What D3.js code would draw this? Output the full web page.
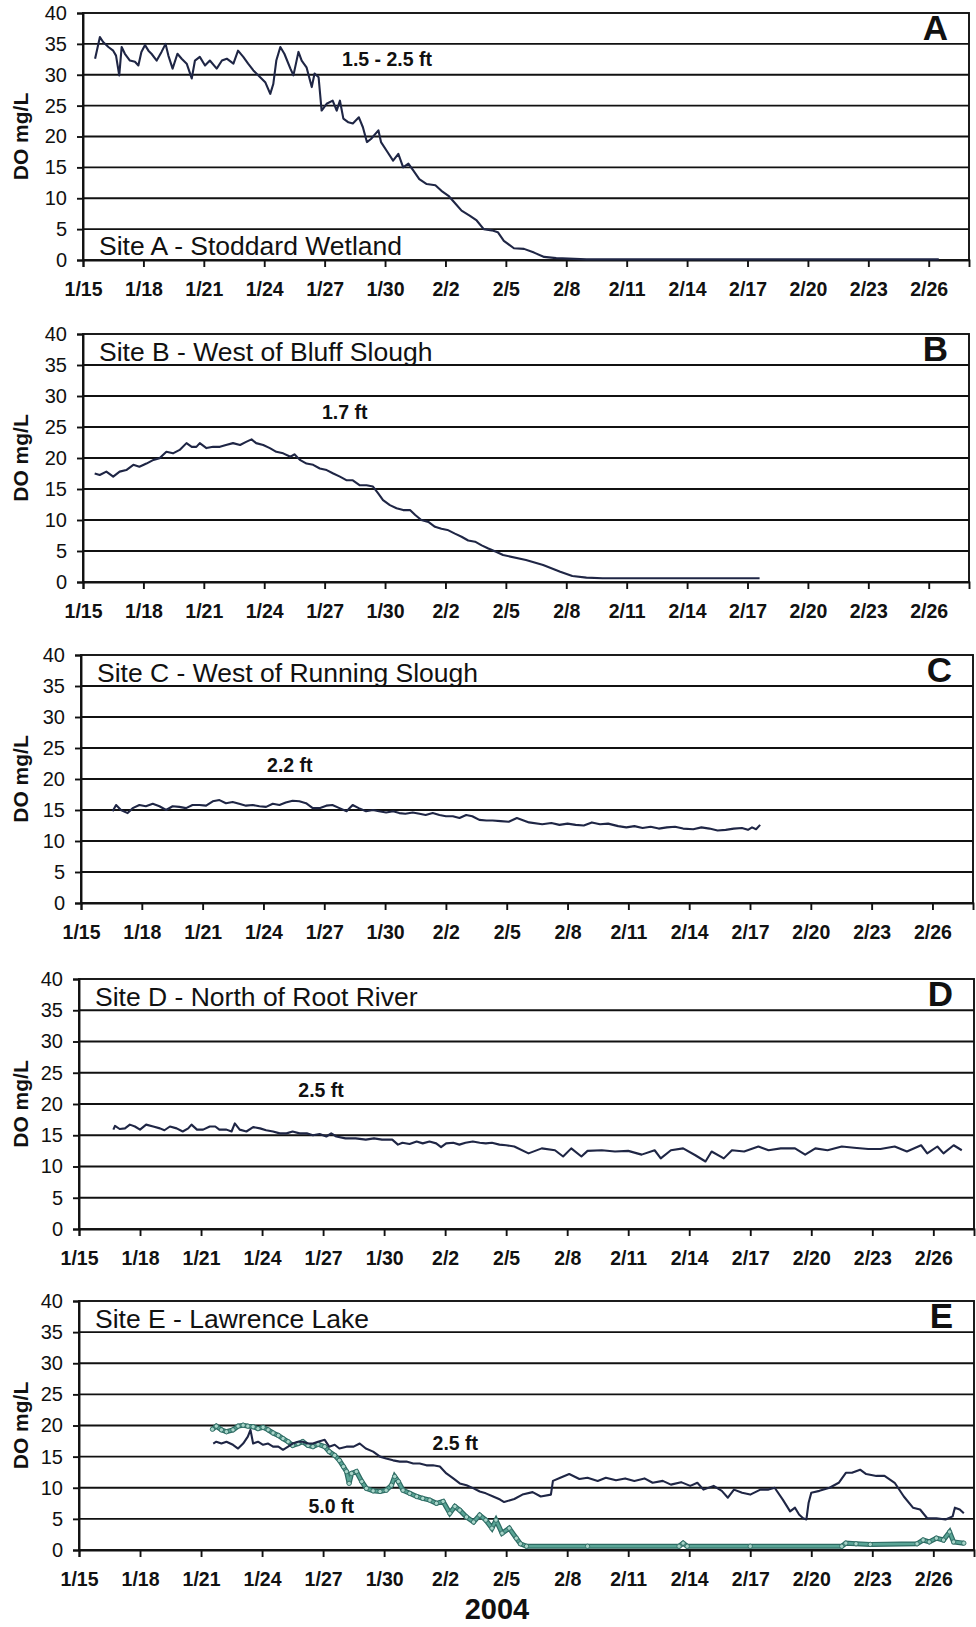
<!DOCTYPE html>
<html>
<head>
<meta charset="utf-8">
<script src="https://cdn.jsdelivr.net/npm/d3@7"></script>
<style>
  body { margin: 0; background: #fff; }
  svg { display: block; font-family: "Liberation Sans", Arial, sans-serif; }
</style>
</head>
<body>
<div id="chart"></div>
<script>
// Canvas
const width = 976;
const height = 1627;

// Time axis: days counted from 1/15/2004
const startDate = new Date(2004, 0, 15);
const endDate = new Date(2004, 1, 28);
const tickDays = [0, 3, 6, 9, 12, 15, 18, 21, 24, 27, 30, 33, 36, 39, 42];
const xTickLabels = ["1/15", "1/18", "1/21", "1/24", "1/27", "1/30", "2/2", "2/5",
  "2/8", "2/11", "2/14", "2/17", "2/20", "2/23", "2/26"];
const yTicks = [0, 5, 10, 15, 20, 25, 30, 35, 40];

// DO readings, [day since 1/15, mg/L]
const siteA = [[0.6,32.6],[0.84,36.1],[1.0,35.3],[1.26,34.5],[1.5,33.9],[1.64,33.1],[1.8,29.9],[1.92,34.5],
  [2.08,33.4],[2.33,32.3],[2.58,32.1],[2.75,31.5],[2.9,33.7],[3.08,34.8],[3.25,33.9],[3.4,33.4],[3.66,32.3],
  [3.9,33.7],[4.1,35.0],[4.24,33.1],[4.45,31.0],[4.69,33.4],[4.9,32.6],[5.15,31.8],[5.4,29.4],[5.56,32.3],
  [5.8,32.9],[6.06,31.5],[6.3,32.3],[6.64,31.0],[6.9,32.3],[7.14,32.6],[7.47,31.8],[7.7,33.9],[7.96,32.9],
  [8.2,31.8],[8.46,30.7],[8.8,29.6],[9.05,28.8],[9.3,26.9],[9.45,28.5],[9.6,32.3],[9.8,34.5],[10.0,33.4],
  [10.3,31.0],[10.45,29.9],[10.7,33.7],[10.86,32.3],[11.1,31.2],[11.36,28.0],[11.5,30.2],[11.7,29.6],
  [11.85,24.2],[12.1,25.3],[12.4,25.8],[12.6,24.2],[12.76,25.8],[12.93,22.9],[13.18,22.3],[13.4,22.1],
  [13.7,23.1],[13.9,21.5],[14.1,19.1],[14.3,19.6],[14.67,21.0],[14.8,19.1],[15.08,17.7],[15.4,16.1],
  [15.66,17.2],[15.9,15.0],[16.16,15.6],[16.4,14.5],[16.7,13.1],[17.07,12.3],[17.5,12.1],[17.8,11.2],
  [18.15,10.4],[18.5,9.1],[18.8,8.0],[19.2,7.2],[19.55,6.4],[19.9,5.0],[20.3,4.8],[20.6,4.5],[20.9,3.1],
  [21.4,1.9],[21.9,1.8],[22.4,1.2],[22.9,0.5],[23.5,0.3],[25,0.1],[30,0.1],[36,0.1],[42.5,0.1]];

const siteB = [[0.58,17.5],[0.83,17.25],[1.16,17.8],[1.5,17.0],[1.82,17.8],[2.15,18.05],[2.5,18.9],[2.8,18.6],
  [3.15,19.1],[3.5,19.7],[3.8,19.95],[4.14,21.0],[4.47,20.75],[4.8,21.3],[5.14,22.4],[5.4,21.8],[5.63,21.8],
  [5.8,22.4],[6.13,21.6],[6.46,21.8],[6.8,21.8],[7.1,22.1],[7.45,22.4],[7.8,22.1],[8.1,22.6],[8.37,23.0],
  [8.6,22.4],[8.95,22.1],[9.28,21.6],[9.6,21.0],[9.94,20.75],[10.3,20.2],[10.5,20.6],[10.77,19.7],[11.1,19.1],
  [11.43,18.9],[11.76,18.3],[12.1,18.05],[12.43,17.5],[12.76,17.0],[13.1,16.4],[13.4,16.4],[13.75,15.6],
  [14.08,15.6],[14.4,15.4],[14.66,14.3],[14.9,13.2],[15.24,12.4],[15.57,11.9],[15.9,11.6],[16.24,11.6],
  [16.5,10.8],[16.8,10.0],[17.15,9.7],[17.48,8.9],[17.8,8.6],[18.1,8.4],[18.47,7.8],[18.8,7.3],[19.13,6.7],
  [19.47,6.5],[19.8,5.9],[20.13,5.4],[20.54,4.85],[20.86,4.35],[22.0,3.55],[22.85,2.74],[23.7,1.66],
  [24.3,0.97],[25.0,0.7],[25.8,0.6],[29,0.6],[33.6,0.6]];

const siteC = [[1.56,14.8],[1.73,15.8],[1.97,15.0],[2.3,14.5],[2.55,15.3],[2.88,15.8],[3.2,15.6],[3.54,16.0],
  [3.87,15.6],[4.2,15.0],[4.52,15.6],[4.85,15.5],[5.18,15.3],[5.5,15.8],[5.84,15.8],[6.17,15.7],[6.5,16.4],
  [6.83,16.6],[7.15,16.1],[7.48,16.3],[7.8,16.0],[8.14,15.7],[8.47,15.8],[8.8,15.6],[9.13,15.5],[9.46,16.0],
  [9.79,15.8],[10.1,16.2],[10.44,16.5],[10.77,16.4],[11.1,16.1],[11.43,15.3],[11.76,15.3],[12.1,15.7],
  [12.4,15.8],[12.75,15.3],[13.1,14.8],[13.4,15.8],[13.7,15.3],[14.06,14.8],[14.4,15.0],[14.7,14.8],
  [15.05,14.6],[15.4,14.8],[15.7,14.5],[16.0,14.4],[16.36,14.6],[16.7,14.4],[17.0,14.2],[17.35,14.5],
  [17.68,14.2],[18.0,14.0],[18.34,14.0],[18.67,13.7],[19.0,14.2],[19.3,14.0],[19.65,13.4],[20.0,13.3],
  [20.3,13.3],[20.7,13.2],[21.1,13.1],[21.5,13.7],[22.1,13.0],[22.75,12.7],[23.2,12.9],[23.6,12.6],
  [24.0,12.8],[24.4,12.6],[24.8,12.5],[25.2,13.0],[25.6,12.7],[26.0,12.8],[26.5,12.4],[26.9,12.2],
  [27.3,12.4],[27.7,12.1],[28.1,12.3],[28.5,12.0],[28.9,12.2],[29.3,12.3],[29.7,12.0],[30.2,11.9],
  [30.6,12.2],[31.0,12.0],[31.4,11.7],[31.8,11.8],[32.2,12.0],[32.6,12.1],[32.9,11.8],[33.1,12.2],
  [33.3,11.9],[33.5,12.6]];

const siteD = [[1.69,15.9],[1.77,16.5],[2.0,16.0],[2.26,16.1],[2.5,16.7],[2.75,16.4],[3.0,15.9],[3.3,16.7],
  [3.65,16.4],[3.98,16.1],[4.2,15.8],[4.47,16.4],[4.8,16.1],[5.1,15.6],[5.37,16.1],[5.53,16.7],[5.8,15.9],
  [6.1,15.9],[6.43,16.4],[6.7,16.4],[6.9,15.9],[7.25,15.9],[7.5,15.6],[7.66,16.9],[7.9,15.9],[8.23,15.6],
  [8.56,16.3],[8.9,16.1],[9.2,15.8],[9.54,15.6],[9.87,15.3],[10.2,15.3],[10.5,15.6],[10.85,15.3],[11.2,15.3],
  [11.5,15.0],[11.83,15.2],[12.16,14.8],[12.4,15.3],[12.65,14.8],[13.1,14.5],[13.6,14.5],[14.1,14.3],
  [14.5,14.5],[14.9,14.3],[15.4,14.3],[15.68,13.5],[15.9,13.8],[16.25,13.6],[16.6,14.0],[16.9,13.7],
  [17.23,14.0],[17.56,13.7],[17.8,13.1],[18.05,13.7],[18.4,13.8],[18.7,13.5],[19.0,13.8],[19.36,14.0],
  [19.7,13.8],[20.0,13.7],[20.3,13.8],[20.67,13.5],[21.0,13.4],[21.4,13.2],[22.1,12.1],[22.75,12.9],
  [23.4,12.6],[23.8,11.6],[24.2,12.9],[24.7,11.6],[25.0,12.5],[25.7,12.6],[26.35,12.4],[27.0,12.5],
  [27.66,11.9],[28.3,12.6],[28.6,11.3],[29.1,12.6],[29.7,12.9],[30.3,11.8],[30.8,10.8],[31.1,12.4],
  [31.7,11.3],[32.1,12.6],[32.7,12.4],[33.4,13.2],[33.9,12.6],[34.5,12.9],[35.2,12.9],[35.7,11.9],
  [36.2,12.9],[36.8,12.6],[37.5,13.2],[38.1,13.0],[38.8,12.8],[39.4,12.8],[40.1,13.2],[40.7,12.4],
  [41.4,13.4],[41.7,12.1],[42.2,13.2],[42.5,12.1],[43.0,13.4],[43.4,12.6]];

const siteE25 = [[6.6,17.1],[6.75,17.4],[7.0,17.1],[7.25,17.4],[7.57,16.9],[7.82,16.3],[8.07,17.1],[8.3,18.2],
  [8.43,19.3],[8.56,17.1],[8.8,17.4],[9.05,16.9],[9.3,17.1],[9.54,16.6],[9.8,16.6],[10.03,16.1],[10.28,16.6],
  [10.5,17.1],[10.77,17.4],[11.0,17.4],[11.26,17.1],[11.5,17.1],[11.75,17.4],[12.08,17.7],[12.3,16.6],
  [12.57,16.9],[12.8,16.3],[13.15,16.6],[13.5,16.6],[13.8,17.1],[14.1,16.3],[14.46,15.8],[14.8,15.0],
  [15.1,14.7],[15.44,14.4],[15.77,14.2],[16.1,14.2],[16.43,13.9],[16.75,13.9],[17.08,13.6],[17.4,13.6],
  [17.74,13.4],[18.06,12.3],[18.4,11.5],[18.72,10.7],[19.05,10.4],[19.4,9.9],[19.7,9.4],[20.0,9.1],
  [20.36,8.6],[20.7,8.1],[20.9,7.7],[21.4,8.2],[21.8,8.9],[22.3,9.3],[22.7,8.6],[23.2,8.9],[23.3,11.1],
  [23.66,11.6],[24.1,12.2],[24.6,11.4],[25.0,11.6],[25.5,11.1],[25.9,11.6],[26.4,11.2],[26.85,11.5],
  [27.3,11.1],[27.8,11.5],[28.2,10.8],[28.7,11.1],[29.1,10.5],[29.6,10.9],[30.05,10.3],[30.4,10.8],
  [30.7,9.7],[31.2,10.3],[31.6,9.5],[31.9,8.4],[32.2,9.7],[32.6,9.2],[33.0,8.9],[33.5,9.7],[33.9,9.7],
  [34.2,10.0],[34.6,8.1],[34.96,6.2],[35.2,6.8],[35.4,5.7],[35.6,5.1],[35.76,4.9],[35.87,7.6],[36.0,9.2],
  [36.4,9.5],[36.9,10.0],[37.35,10.8],[37.7,12.4],[38.0,12.4],[38.4,12.9],[38.7,12.2],[39.2,11.9],
  [39.6,11.9],[40.1,10.8],[40.55,8.6],[41.0,6.8],[41.35,6.5],[41.7,5.1],[42.15,5.1],[42.6,4.9],
  [42.95,5.4],[43.06,6.8],[43.3,6.5],[43.5,5.9]];

const siteE50 = [[6.56,19.4],[6.75,19.9],[7.0,19.3],[7.25,19.0],[7.57,19.3],[7.82,19.9],[8.07,20.05],[8.3,19.9],
  [8.56,19.8],[8.8,19.5],[9.05,19.7],[9.3,19.3],[9.54,18.8],[9.8,18.4],[10.03,17.9],[10.28,17.4],[10.5,16.8],
  [10.77,17.1],[11.0,17.4],[11.26,16.8],[11.5,16.6],[11.75,17.0],[12.08,16.6],[12.3,15.8],[12.57,15.2],
  [12.8,14.4],[13.0,13.4],[13.15,12.6],[13.28,10.7],[13.4,12.3],[13.64,12.6],[13.9,11.0],[14.13,9.9],
  [14.46,9.5],[14.8,9.4],[15.1,9.6],[15.36,10.4],[15.52,11.8],[15.7,11.0],[15.93,9.6],[16.26,9.1],
  [16.6,8.6],[16.9,8.3],[17.25,8.0],[17.57,7.5],[17.9,7.8],[18.23,5.9],[18.48,7.0],[18.72,6.4],[19.05,5.3],
  [19.4,4.5],[19.7,5.6],[20.0,4.8],[20.3,3.5],[20.5,4.8],[20.8,2.7],[21.15,3.5],[21.5,1.9],[21.7,1.0],
  [22.0,0.6],[25.0,0.6],[29.5,0.6],[29.7,1.1],[29.9,0.6],[33.0,0.6],[37.5,0.6],[37.7,1.1],[38.2,1.0],
  [38.9,0.9],[41.2,1.0],[41.5,1.6],[41.8,1.3],[42.15,1.9],[42.5,1.6],[42.8,2.9],[43.0,1.3],[43.5,1.1]];

// Panel frames and their text
const panels = [
  { top: 13,   bottom: 260,  left: 83, right: 969, letter: "A", site: "Site A - Stoddard Wetland", siteAtBottom: true,
    series: [siteA], notes: [{ text: "1.5 - 2.5 ft", d: 15.1, v: 31.4 }] },
  { top: 334,  bottom: 582,  left: 83, right: 969, letter: "B", site: "Site B - West of Bluff Slough",
    series: [siteB], notes: [{ text: "1.7 ft", d: 13.0, v: 26.3 }] },
  { top: 655,  bottom: 903,  left: 81, right: 973, letter: "C", site: "Site C - West of Running Slough",
    series: [siteC], notes: [{ text: "2.2 ft", d: 10.3, v: 21.1 }] },
  { top: 979,  bottom: 1229, left: 79, right: 974, letter: "D", site: "Site D - North of Root River",
    series: [siteD], notes: [{ text: "2.5 ft", d: 11.9, v: 21.1 }] },
  { top: 1301, bottom: 1550, left: 79, right: 974, letter: "E", site: "Site E - Lawrence Lake",
    series: [siteE25], teal: siteE50,
    notes: [{ text: "2.5 ft", d: 18.5, v: 16.1 }, { text: "5.0 ft", d: 12.4, v: 5.9 }] }
];

const dayToDate = d => new Date(startDate.getTime() + d * 864e5);

const svg = d3.select("#chart")
  .append("svg")
  .attr("width", width)
  .attr("height", height);

svg.append("rect").attr("width", width).attr("height", height).attr("fill", "#fff");

panels.forEach(p => {
  const g = svg.append("g");

  const x = d3.scaleTime().domain([startDate, endDate]).range([p.left, p.right]);
  const y = d3.scaleLinear().domain([0, 40]).range([p.bottom, p.top]);

  // horizontal gridlines
  g.selectAll(".grid")
    .data(yTicks.filter(v => v > 0 && v < 40))
    .enter().append("line")
    .attr("x1", p.left).attr("x2", p.right)
    .attr("y1", d => y(d)).attr("y2", d => y(d))
    .attr("stroke", "#111")
    .attr("stroke-width", 1.9);

  // plot frame
  g.append("rect")
    .attr("x", p.left).attr("y", p.top)
    .attr("width", p.right - p.left).attr("height", p.bottom - p.top)
    .attr("fill", "none")
    .attr("stroke", "#111")
    .attr("stroke-width", 1.9);

  // y axis
  const yAxis = g.append("g")
    .attr("transform", `translate(${p.left},0)`)
    .call(d3.axisLeft(y).tickValues(yTicks).tickSize(6).tickPadding(10));
  yAxis.selectAll("line, path").attr("stroke", "#111").attr("stroke-width", 1.9);
  yAxis.selectAll("text")
    .attr("fill", "#111")
    .style("font-size", "20px")
    .style("font-family", "'Liberation Sans', Arial, sans-serif");

  // x axis
  const xAxis = g.append("g")
    .attr("transform", `translate(0,${p.bottom})`)
    .call(d3.axisBottom(x)
      .tickValues(tickDays.map(dayToDate))
      .tickFormat((d, i) => xTickLabels[i])
      .tickSize(7).tickPadding(15));
  xAxis.selectAll("line, path").attr("stroke", "#111").attr("stroke-width", 1.9);
  xAxis.selectAll("text")
    .attr("fill", "#111")
    .style("font-size", "19.5px")
    .style("font-weight", "bold")
    .style("font-family", "'Liberation Sans', Arial, sans-serif");

  // y axis title
  g.append("text")
    .attr("transform", `translate(28,${(p.top + p.bottom) / 2}) rotate(-90)`)
    .attr("text-anchor", "middle")
    .attr("font-size", 21)
    .attr("font-weight", "bold")
    .attr("fill", "#111")
    .text("DO mg/L");

  const line = d3.line()
    .x(d => x(dayToDate(d[0])))
    .y(d => y(d[1]));

  // 5.0 ft series (teal with markers) drawn first
  if (p.teal) {
    g.append("path")
      .datum(p.teal)
      .attr("d", line)
      .attr("fill", "none")
      .attr("stroke", "#2c6a62")
      .attr("stroke-width", 5);
    g.append("path")
      .datum(p.teal)
      .attr("d", line)
      .attr("fill", "none")
      .attr("stroke", "#5aa596")
      .attr("stroke-width", 2.6);
    g.selectAll(".mk")
      .data(p.teal)
      .enter().append("circle")
      .attr("cx", d => x(dayToDate(d[0])))
      .attr("cy", d => y(d[1]))
      .attr("r", 2.2)
      .attr("fill", "#a9d6ca")
      .attr("stroke", "#2c6a62")
      .attr("stroke-width", 0.9);
  }

  p.series.forEach(s => {
    g.append("path")
      .datum(s)
      .attr("d", line)
      .attr("fill", "none")
      .attr("stroke", "#1f2645")
      .attr("stroke-width", 2.1)
      .attr("stroke-linejoin", "round");
  });

  // site name
  g.append("text")
    .attr("x", p.left + 16)
    .attr("y", p.siteAtBottom ? p.bottom - 5 : p.top + 27)
    .attr("font-size", 26.5)
    .attr("fill", "#111")
    .text(p.site);

  // panel letter
  g.append("text")
    .attr("x", p.right - 21)
    .attr("y", p.top + 27)
    .attr("text-anchor", "end")
    .attr("font-size", 35)
    .attr("font-weight", "bold")
    .attr("fill", "#111")
    .text(p.letter);

  // depth labels
  g.selectAll(".note")
    .data(p.notes)
    .enter().append("text")
    .attr("x", d => x(dayToDate(d.d)))
    .attr("y", d => y(d.v))
    .attr("text-anchor", "middle")
    .attr("font-size", 19.5)
    .attr("font-weight", "bold")
    .attr("fill", "#111")
    .text(d => d.text);
});

// year label
svg.append("text")
  .attr("x", 497)
  .attr("y", 1619)
  .attr("text-anchor", "middle")
  .attr("font-size", 29)
  .attr("font-weight", "bold")
  .attr("fill", "#111")
  .text("2004");
</script>
</body>
</html>
